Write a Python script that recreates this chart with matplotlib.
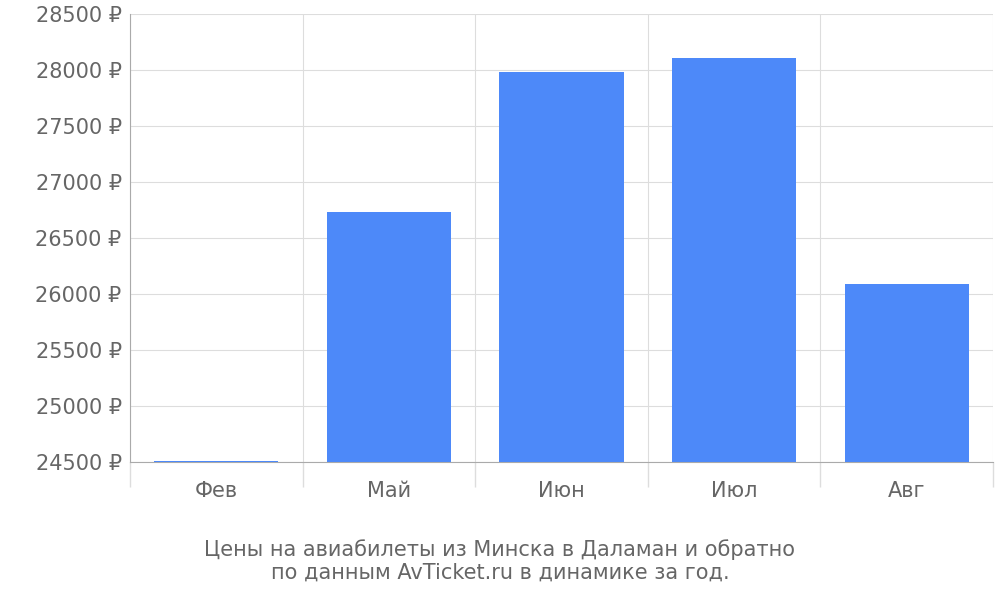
import numpy as np
import matplotlib.pyplot as plt

months = ['Фев', 'Май', 'Июн', 'Июл', 'Авг']
prices = [24510, 26735, 27982, 28107, 26090]
y_ticks = list(range(24500, 28501, 500))

TXT = '#666666'
GRID = '#dddddd'

fig = plt.figure(figsize=(10, 6), dpi=100)
ax = fig.add_axes([0.13, 0.23, 0.863, 0.747])
x = np.arange(len(months))
ax.bar(x, [p - 24500 for p in prices], 0.72, bottom=24500, color='#4d89f9', zorder=3)

ax.set_xlim(-0.5, len(months) - 0.5)
ax.set_ylim(24500, 28500)
ax.set_yticks(y_ticks)
ax.set_yticklabels([f'{v} ₽' for v in y_ticks], fontsize=15, color=TXT)
ax.set_xticks(x)
ax.set_xticklabels(months, fontsize=15, color=TXT)
ax.tick_params(axis='x', length=0, pad=14)
ax.tick_params(axis='y', length=0, pad=6)
ax.set_xticks(np.arange(-0.5, len(months)), minor=True)
ax.tick_params(axis='x', which='minor', length=18, color=GRID, width=1)

ax.grid(axis='y', color=GRID, zorder=0)
ax.grid(axis='x', which='minor', color=GRID, zorder=0)
for s in ['top', 'right']:
    ax.spines[s].set_visible(False)
ax.spines['left'].set_color('#aaaaaa')
ax.spines['bottom'].set_color('#aaaaaa')

fig.text(0.5, 0.065, 'Цены на авиабилеты из Минска в Даламан и обратно\nпо данным AvTicket.ru в динамике за год.',
         ha='center', va='center', fontsize=15, color=TXT, linespacing=1.2)

plt.savefig('out.png')
